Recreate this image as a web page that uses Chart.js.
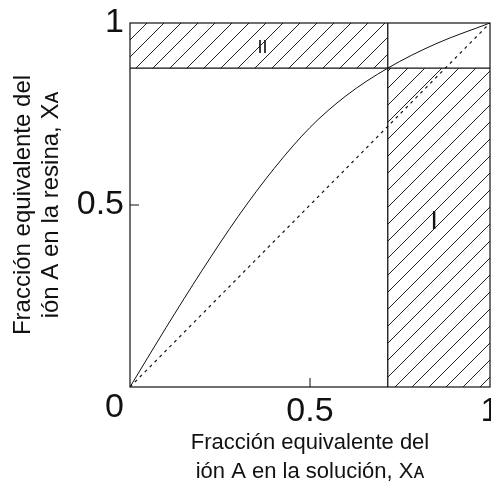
<!DOCTYPE html>
<html>
<head>
<meta charset="utf-8">
<script src="https://cdn.jsdelivr.net/npm/chart.js@4.4.1/dist/chart.umd.min.js"></script>
<style>
  html, body { margin: 0; padding: 0; background: #fff; overflow: hidden; }
  canvas { display: block; }
</style>
</head>
<body>
<canvas id="chart" width="491" height="491"></canvas>
<script>
// tick labels
const xTicks = [0, 0.5, 1];
const yTicks = [0, 0.5, 1];

// isotherm
const curveX = [0, 0.1, 0.2, 0.3, 0.4, 0.5, 0.6, 0.716, 0.85, 1];
const curveY = [0, 0.163, 0.320, 0.468, 0.600, 0.713, 0.800, 0.876, 0.943, 1];

// 45 degree reference line
const diagonalX = [0, 1];
const diagonalY = [0, 1];

// feed point that splits the regions
const feedX = 0.716;
const feedY = 0.876;

// region names and where they sit (data units)
const regionNames = ['I', 'II'];
const regionX = [0.845, 0.368];
const regionY = [0.453, 0.931];

const INK = '#111';
const FONT = "'Liberation Sans', Arial, 'DejaVu Sans', sans-serif";

const pts = (xs, ys) => xs.map((v, i) => ({ x: v, y: ys[i] }));

// hatch pattern "/"
function makeHatch() {
  const s = 17;
  const c = document.createElement('canvas');
  c.width = s; c.height = s;
  const g = c.getContext('2d');
  g.strokeStyle = '#222';
  g.lineWidth = 1;
  g.beginPath();
  g.moveTo(-2, s + 2); g.lineTo(s + 2, -2);
  g.moveTo(-2, 2); g.lineTo(2, -2);
  g.moveTo(s - 2, s + 2); g.lineTo(s + 2, s - 2);
  g.stroke();
  return g.createPattern(c, 'repeat');
}
const hatch = makeHatch();

// frame, inner ticks and region names
const framePlugin = {
  id: 'frame',
  afterDatasetsDraw(chart) {
    const { ctx, chartArea: a, scales: { x, y } } = chart;
    ctx.save();
    ctx.strokeStyle = INK;
    ctx.lineWidth = 1.2;
    ctx.strokeRect(a.left, a.top, a.right - a.left, a.bottom - a.top);

    ctx.lineWidth = 1;
    ctx.beginPath();
    const px = x.getPixelForValue(0.5);
    ctx.moveTo(px, a.bottom); ctx.lineTo(px, a.bottom - 9);
    const py = y.getPixelForValue(0.5);
    ctx.moveTo(a.left, py); ctx.lineTo(a.left + 9, py);
    ctx.stroke();

    ctx.fillStyle = INK;
    ctx.textAlign = 'center';
    ctx.textBaseline = 'middle';
    regionNames.forEach((name, i) => {
      ctx.font = (name === 'I' ? 26 : 18) + 'px ' + FONT;
      ctx.fillText(name, x.getPixelForValue(regionX[i]), y.getPixelForValue(regionY[i]));
    });
    ctx.restore();
  }
};

const ctx = document.getElementById('chart').getContext('2d');

new Chart(ctx, {
  type: 'line',
  data: {
    datasets: [
      {
        data: pts(curveX, curveY),
        borderColor: INK, borderWidth: 1,
        cubicInterpolationMode: 'monotone',
        fill: false
      },
      {
        data: pts(diagonalX, diagonalY),
        borderColor: INK, borderWidth: 1.2,
        borderDash: [3, 4],
        fill: false
      },
      {
        data: pts([0, 1], [feedY, feedY]),
        borderColor: INK, borderWidth: 1.3,
        fill: false
      },
      {
        data: pts([feedX, feedX], [0, 1]),
        borderColor: INK, borderWidth: 1.3,
        fill: false
      },
      {
        // region I
        data: pts([feedX, 1], [feedY, feedY]),
        borderColor: 'rgba(0,0,0,0)', borderWidth: 0,
        backgroundColor: hatch,
        fill: 'origin'
      },
      {
        // region II
        data: pts([0, feedX], [feedY, feedY]),
        borderColor: 'rgba(0,0,0,0)', borderWidth: 0,
        backgroundColor: hatch,
        fill: 'end'
      }
    ]
  },
  options: {
    responsive: false,
    animation: false,
    devicePixelRatio: 1,
    elements: { point: { radius: 0 }, line: { tension: 0 } },
    layout: { padding: { top: 23, right: 1, bottom: 0, left: 0 } },
    plugins: {
      legend: { display: false },
      tooltip: { enabled: false }
    },
    scales: {
      x: {
        type: 'linear',
        min: 0, max: 1,
        afterBuildTicks: s => { s.ticks = xTicks.map(v => ({ value: v })); },
        afterFit: s => { s.height = 104; s.paddingLeft = 0; s.paddingRight = 0; },
        grid: { display: false, drawTicks: false },
        border: { display: false },
        ticks: {
          color: INK,
          padding: 4,
          maxRotation: 0,
          font: { family: FONT, size: 34 },
          callback: v => (v === 0 ? '' : String(v))
        },
        title: {
          display: true,
          text: ['Fracción equivalente del', 'ión A en la solución, Xᴀ'],
          color: INK,
          font: { family: FONT, size: 22, lineHeight: 1.3 },
          padding: { top: 0, bottom: 5 }
        }
      },
      y: {
        type: 'linear',
        min: 0, max: 1,
        afterBuildTicks: s => { s.ticks = yTicks.map(v => ({ value: v })); },
        afterFit: s => { s.width = 130; s.paddingTop = 0; s.paddingBottom = 0; },
        grid: { display: false, drawTicks: false },
        border: { display: false },
        ticks: {
          color: INK,
          padding: 6,
          font: { family: FONT, size: 34 },
          // the shared corner "0" sits a little below the axis
          callback: v => (v === 0 ? ['', '0'] : String(v))
        },
        title: {
          display: true,
          text: ['Fracción equivalente del', 'ión A en la resina, Xᴀ'],
          color: INK,
          font: { family: FONT, size: 24, lineHeight: 1.15 },
          padding: { top: 10, bottom: 0 }
        }
      }
    }
  },
  plugins: [framePlugin]
});
</script>
</body>
</html>
